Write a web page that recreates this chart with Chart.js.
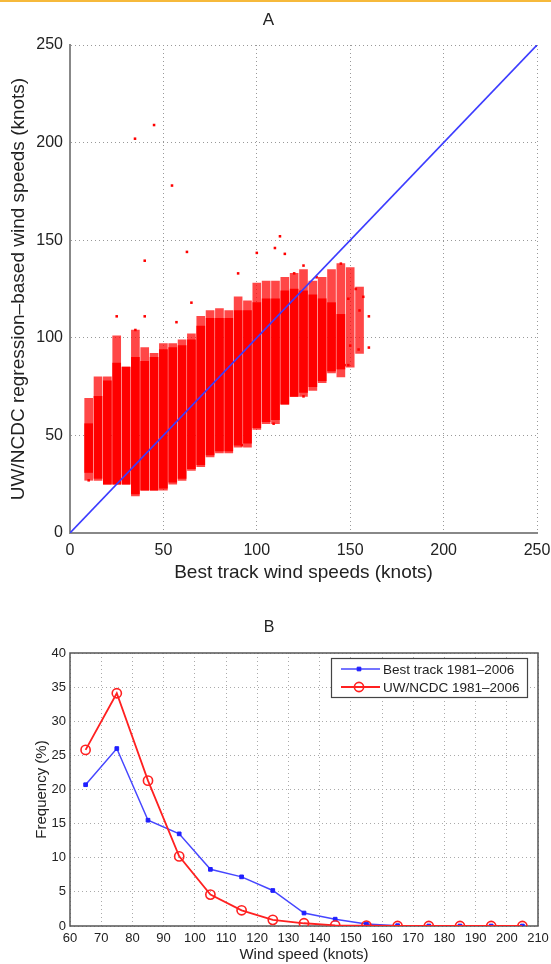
<!DOCTYPE html>
<html>
<head>
<meta charset="utf-8">
<script src="https://cdn.jsdelivr.net/npm/chart.js@4.4.0/dist/chart.umd.min.js"></script>
<style>
body { margin: 0; background: #fff; }
#topline { position: absolute; left: 0; top: 0; width: 551px; height: 2px; background: #f6b93b; z-index: 2; }
#chartA { position: absolute; left: 0; top: 0; }
#chartB { position: absolute; left: 0; top: 600px; }
</style>
</head>
<body>
<div id="topline"></div>
<canvas id="chartA" width="551" height="600"></canvas>
<canvas id="chartB" width="551" height="364"></canvas>
<script>
// Panel A - best track speed (5 kt bins) vs regression based speeds
var bestTrack = [10, 15, 20, 25, 30, 35, 40, 45, 50, 55, 60, 65, 70, 75, 80, 85, 90, 95, 100, 105, 110, 115, 120, 125, 130, 135, 140, 145, 150, 155];
// full spread of the points in each bin
var outerLow  = [27, 27, 25, 25, 25, 19, 22, 22, 22, 25, 27, 32, 34, 39, 41, 41, 44, 44, 53, 56, 56, 66, 70, 70, 73, 77, 82, 80, 85, 92];
var outerHigh = [69, 80, 80, 101, 85, 104, 95, 92, 97, 97, 99, 102, 111, 114, 115, 114, 121, 119, 128, 129, 129, 131, 133, 135, 129, 131, 135, 138, 136, 126];
// dense part of each bin
var coreLow  = [31, 28, 25, 25, 25, 20, 22, 22, 23, 26, 28, 33, 35, 40, 42, 42, 45, 46, 54, 57, 58, 66, 70, 72, 75, 78, 83, 84, null, null];
var coreHigh = [56, 70, 78, 87, 85, 90, 88, 90, 94, 95, 96, 99, 106, 110, 110, 110, 114, 114, 118, 120, 120, 124, 125, 124, 122, 120, 118, 112, null, null];

// single points away from the columns
var sparseX = [34.8, 45, 54.6, 40, 62.6, 90, 112.4, 109.7, 115, 100, 120, 25, 40, 35, 65, 57, 125, 132,
               145, 149, 153, 157, 160, 155, 154.5, 160, 149, 147, 150, 146, 10, 92, 109, 125];
var sparseY = [202, 209, 178, 139.5, 144, 133, 152, 146, 143, 143.5, 133, 111, 111, 104, 118, 108, 137, 131,
               138, 120, 125, 121, 111, 114, 94, 95, 86, 86, 96, 101, 27, 45, 56, 70];

var ticksA = [0, 50, 100, 150, 200, 250];

// Panel B - frequency distribution (%)
var windSpeed = [65, 75, 85, 95, 105, 115, 125, 135, 145, 155, 165, 175, 185, 195, 205];
var bestTrackFreq = [20.7, 26.0, 15.5, 13.5, 8.3, 7.2, 5.2, 1.9, 1.0, 0.3, 0.05, 0, 0, 0, 0];
var uwFreq = [25.8, 34.1, 21.3, 10.2, 4.6, 2.3, 0.9, 0.4, 0.1, 0.05, 0, 0, 0, 0, 0];
var ticksBx = [60, 70, 80, 90, 100, 110, 120, 130, 140, 150, 160, 170, 180, 190, 200, 210];
var ticksBy = [0, 5, 10, 15, 20, 25, 30, 35, 40];

var FONT = '"Liberation Sans", Arial, sans-serif';
Chart.defaults.font.family = FONT;
Chart.defaults.color = '#222';

function setTicks(list) {
    return function(scale) {
        scale.ticks = list.map(function(v) { return { value: v }; });
    };
}
function fixHeight(h) {
    return function(s) { s.height = h; s.paddingLeft = 0; s.paddingRight = 0; };
}
function fixWidth(w) {
    return function(s) { s.width = w; s.paddingTop = 0; s.paddingBottom = 0; };
}

var outerCols = bestTrack.map(function(x, i) { return { x: x, y: [outerLow[i], outerHigh[i]] }; });
var coreCols = [];
bestTrack.forEach(function(x, i) {
    if (coreLow[i] !== null) coreCols.push({ x: x, y: [coreLow[i], coreHigh[i]] });
});
var sparse = sparseX.map(function(x, i) { return { x: x, y: sparseY[i] }; });

new Chart(document.getElementById('chartA'), {
    type: 'scatter',
    data: {
        datasets: [{
            type: 'line',
            data: [{ x: 0, y: 0 }, { x: 250, y: 250 }],
            borderColor: '#3c3cff',
            borderWidth: 1.6,
            pointRadius: 0,
            order: 0
        }, {
            type: 'scatter',
            data: sparse,
            backgroundColor: '#ff0000',
            borderWidth: 0,
            pointStyle: 'rect',
            pointRadius: 1.8,
            order: 1
        }, {
            type: 'bar',
            data: coreCols,
            backgroundColor: '#ff0000',
            borderWidth: 0,
            barThickness: 8,
            order: 2
        }, {
            type: 'bar',
            data: outerCols,
            backgroundColor: 'rgba(255,0,0,0.72)',
            borderWidth: 0,
            barThickness: 8,
            order: 3
        }]
    },
    options: {
        responsive: false,
        animation: false,
        devicePixelRatio: 1,
        layout: { padding: { left: 0, right: 14, top: 0, bottom: 0 } },
        datasets: { bar: { grouped: false } },
        plugins: {
            legend: { display: false },
            tooltip: { enabled: false },
            title: {
                display: true,
                text: 'A',
                font: { size: 17, weight: 'normal' },
                padding: { top: 10, bottom: 14.6 }
            }
        },
        scales: {
            x: {
                type: 'linear',
                min: 0, max: 250,
                offset: false,
                afterBuildTicks: setTicks(ticksA),
                afterFit: fixHeight(67),
                grid: { color: '#999', drawTicks: false, offset: false },
                border: { display: true, color: '#888', width: 2, dash: [1, 3] },
                ticks: { font: { size: 16 }, padding: 8, color: '#222', maxRotation: 0 },
                title: { display: true, text: 'Best track wind speeds (knots)', font: { size: 19 }, padding: { bottom: 16 } }
            },
            y: {
                type: 'linear',
                min: 0, max: 250,
                afterBuildTicks: setTicks(ticksA),
                afterFit: fixWidth(70),
                grid: { color: '#999', drawTicks: false },
                border: { display: true, color: '#888', width: 2, dash: [1, 3] },
                ticks: { font: { size: 16 }, padding: 7, color: '#222' },
                title: { display: true, text: 'UW/NCDC regression–based wind speeds (knots)', font: { size: 19 }, padding: { top: 7 } }
            }
        }
    }
});

var frameB = {
    id: 'frameB',
    beforeDatasetsDraw: function(chart) {
        var a = chart.chartArea, ctx = chart.ctx;
        ctx.save();
        ctx.strokeStyle = '#555';
        ctx.lineWidth = 1.5;
        ctx.strokeRect(a.left, a.top, a.right - a.left, a.bottom - a.top);
        ctx.restore();
    }
};

var legendB = {
    id: 'legendB',
    afterDraw: function(chart) {
        var ctx = chart.ctx;
        var x0 = 331, y0 = 58, w = 196, h = 39;
        ctx.save();
        ctx.fillStyle = '#fff';
        ctx.fillRect(x0, y0, w, h);
        ctx.strokeStyle = '#444';
        ctx.lineWidth = 1.2;
        ctx.strokeRect(x0 + 0.5, y0 + 0.5, w, h);
        chart.data.datasets.forEach(function(ds, i) {
            var y = y0 + 11 + i * 18;
            ctx.strokeStyle = ds.borderColor;
            ctx.lineWidth = ds.borderWidth;
            ctx.beginPath();
            ctx.moveTo(x0 + 10, y);
            ctx.lineTo(x0 + 49, y);
            ctx.stroke();
            ctx.fillStyle = ds.pointBackgroundColor;
            ctx.strokeStyle = ds.pointBorderColor;
            ctx.lineWidth = ds.pointBorderWidth;
            Chart.helpers.drawPoint(ctx, {
                pointStyle: ds.pointStyle,
                radius: ds.pointRadius,
                borderWidth: ds.pointBorderWidth
            }, x0 + 28, y);
            ctx.fillStyle = '#222';
            ctx.font = '13.5px ' + FONT;
            ctx.textBaseline = 'middle';
            ctx.textAlign = 'left';
            ctx.fillText(ds.label, x0 + 52, y + 1);
        });
        ctx.restore();
    }
};

new Chart(document.getElementById('chartB'), {
    type: 'line',
    data: {
        datasets: [{
            label: 'Best track 1981–2006',
            data: windSpeed.map(function(x, i) { return { x: x, y: bestTrackFreq[i] }; }),
            borderColor: '#4646ff',
            borderWidth: 1.5,
            pointStyle: 'rect',
            pointRadius: 2.6,
            pointBorderWidth: 1,
            pointBackgroundColor: '#2020ff',
            pointBorderColor: '#2020ff',
            order: 1
        }, {
            label: 'UW/NCDC 1981–2006',
            data: windSpeed.map(function(x, i) { return { x: x, y: uwFreq[i] }; }),
            borderColor: '#ff2020',
            borderWidth: 1.8,
            pointStyle: 'circle',
            pointRadius: 4.6,
            pointBorderWidth: 1.6,
            pointBackgroundColor: 'rgba(0,0,0,0)',
            pointBorderColor: '#ff2020',
            order: 0
        }]
    },
    options: {
        responsive: false,
        animation: false,
        devicePixelRatio: 1,
        layout: { padding: { left: 0, right: 13, top: 0, bottom: 0 } },
        plugins: {
            legend: { display: false },
            tooltip: { enabled: false },
            title: {
                display: true,
                text: 'B',
                font: { size: 16, weight: 'normal' },
                padding: { top: 18.4, bottom: 15.4 }
            }
        },
        scales: {
            x: {
                type: 'linear',
                min: 60, max: 210,
                afterBuildTicks: setTicks(ticksBx),
                afterFit: fixHeight(38),
                grid: { color: '#aaa', drawTicks: false },
                border: { display: false, dash: [1, 3] },
                ticks: { font: { size: 13 }, padding: 5, color: '#222', maxRotation: 0, autoSkip: false },
                title: { display: true, text: 'Wind speed (knots)', font: { size: 15 }, padding: { bottom: 0 } }
            },
            y: {
                type: 'linear',
                min: 0, max: 40,
                afterBuildTicks: setTicks(ticksBy),
                afterFit: fixWidth(70),
                grid: { color: '#aaa', drawTicks: false },
                border: { display: false, dash: [1, 3] },
                ticks: { font: { size: 13 }, padding: 4, color: '#222' },
                title: { display: true, text: 'Frequency (%)', font: { size: 15 }, padding: { top: 33 } }
            }
        }
    },
    plugins: [frameB, legendB]
});
</script>
</body>
</html>
